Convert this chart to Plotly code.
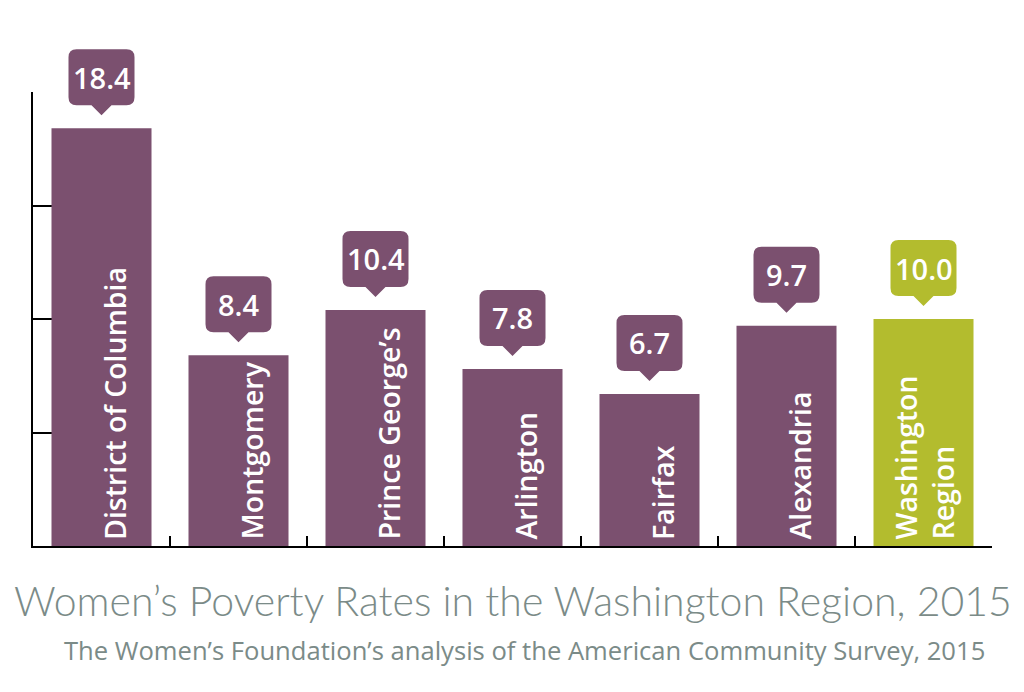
import plotly.graph_objects as go

# datos
categories = ["District of Columbia", "Montgomery", "Prince George’s", "Arlington",
              "Fairfax", "Alexandria", "Washington<br>Region"]
rates = [18.4, 8.4, 10.4, 7.8, 6.7, 9.7, 10.0]
value_labels = ["18.4", "8.4", "10.4", "7.8", "6.7", "9.7", "10.0"]
y_ticks = [0, 5, 10, 15, 20]

PURPLE = "#7b506f"
GREEN = "#b3bc2e"
GRAY = "#7b8b88"
colors = [GREEN if c.startswith("Washington") else PURPLE for c in categories]

# el área de las barras sube más que el eje para que el globo de 18.4 no se recorte
plot_h = 518
axis_h = 454
y_max = y_ticks[-1] * plot_h / axis_h

fig = go.Figure()
# traza invisible para dibujar el eje Y (0-20) con su propio dominio (debajo de las barras)
fig.add_trace(go.Scatter(
    x=[categories[0]], y=[0], yaxis="y", mode="markers",
    marker=dict(opacity=0), hoverinfo="skip", showlegend=False,
))
fig.add_trace(go.Bar(
    x=categories, y=rates, yaxis="y2",
    marker=dict(color=colors, line=dict(width=0)),
    hoverinfo="x+y",
    showlegend=False,
))

# globos con el valor encima de cada barra (path en píxeles relativo a la barra)
w, r = 33, 8
yb, yt, tip = 23, 79, 13
callout = (f"M {-w + r},{yb} L -10,{yb} L 0,{tip} L 10,{yb} L {w - r},{yb} "
           f"Q {w},{yb} {w},{yb + r} L {w},{yt - r} Q {w},{yt} {w - r},{yt} "
           f"L {-w + r},{yt} Q {-w},{yt} {-w},{yt - r} L {-w},{yb + r} "
           f"Q {-w},{yb} {-w + r},{yb} Z")

for cat, val, lab, col in zip(categories, rates, value_labels, colors):
    fig.add_shape(
        type="path", xref="x", yref="y2",
        xsizemode="pixel", ysizemode="pixel",
        xanchor=cat, yanchor=val,
        path=callout, fillcolor=col, line=dict(width=0),
    )
    fig.add_annotation(
        x=cat, y=val, xref="x", yref="y2", text=lab, showarrow=False,
        yshift=(yb + yt) / 2, yanchor="middle",
        font=dict(family="Open Sans", size=29, color="white", weight=600),
    )
    # nombre dentro de la barra, girado
    two_lines = "<br>" in cat
    fig.add_annotation(
        x=cat, y=0, xref="x", yref="y2", text=cat, showarrow=False,
        textangle=-90, yanchor="bottom", xanchor="center", align="left",
        yshift=4, xshift=0 if two_lines else 13,
        font=dict(family="Open Sans", size=28.5, color="white", weight=600),
    )

fig.add_annotation(
    xref="paper", yref="paper", x=0.5, y=-0.106, yanchor="middle",
    text="Women’s Poverty Rates in the Washington Region, 2015",
    showarrow=False, font=dict(family="Lato", size=41, color=GRAY, weight=300),
)
fig.add_annotation(
    xref="paper", yref="paper", x=0.5, y=-0.201, yanchor="middle", xshift=12,
    text="The Women’s Foundation’s analysis of the American Community Survey, 2015",
    showarrow=False, font=dict(family="Open Sans", size=25.6, color=GRAY),
)

fig.update_layout(
    width=1024, height=692,
    margin=dict(l=25, r=40, t=692 - 154 - plot_h, b=154),
    paper_bgcolor="white", plot_bgcolor="rgba(0,0,0,0)",
    bargap=0.27,
)
fig.update_xaxes(
    type="category", showline=True, linecolor="black", linewidth=2,
    ticks="inside", tickson="boundaries", ticklen=10, tickcolor="black", tickwidth=2,
    showticklabels=False, showgrid=False, zeroline=False, layer="below traces",
    anchor="y",
)
fig.update_layout(
    yaxis=dict(range=[y_ticks[0], y_ticks[-1]], domain=[0, axis_h / plot_h],
               tickvals=y_ticks, showline=True, linecolor="black", linewidth=2,
               ticks="inside", ticklen=24, tickcolor="black", tickwidth=2,
               showticklabels=False, showgrid=False, zeroline=False),
    yaxis2=dict(range=[0, y_max], domain=[0, 1], anchor="x", showline=False, ticks="",
                showticklabels=False, showgrid=False, zeroline=False),
)

fig.write_html("out.html")
